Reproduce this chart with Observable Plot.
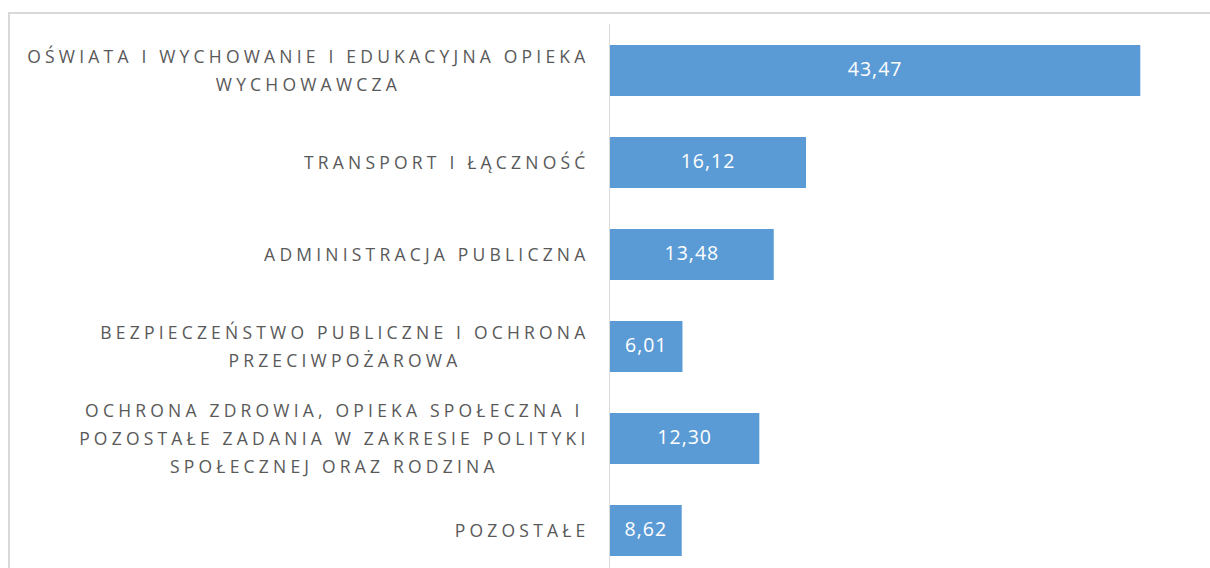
<!DOCTYPE html>
<html>
<head>
<meta charset="utf-8">
<script src="https://cdn.jsdelivr.net/npm/d3@7"></script>
<script src="https://cdn.jsdelivr.net/npm/@observablehq/plot@0.6"></script>
<style>
  html, body { margin: 0; padding: 0; background: #fff; overflow: hidden; }
  #frame { position: absolute; left: 8px; top: 12px; width: 1400px; height: 800px;
           border: 2px solid #d9d9d9; box-sizing: border-box; }
  #chart { position: absolute; left: 0; top: 0; }
</style>
</head>
<body>
<div id="frame"></div>
<div id="chart"></div>
<script>
const categories = [
  "OŚWIATA I WYCHOWANIE I EDUKACYJNA OPIEKA\nWYCHOWAWCZA",
  "TRANSPORT I ŁĄCZNOŚĆ",
  "ADMINISTRACJA PUBLICZNA",
  "BEZPIECZEŃSTWO PUBLICZNE I OCHRONA\nPRZECIWPOŻAROWA",
  "OCHRONA ZDROWIA, OPIEKA SPOŁECZNA I\nPOZOSTAŁE ZADANIA W ZAKRESIE POLITYKI\nSPOŁECZNEJ ORAZ RODZINA",
  "POZOSTAŁE"
];
// bar lengths as drawn in the picture
const values = [43.47, 16.12, 13.48, 6.01, 12.30, 5.95];
// data labels as printed in the picture
const valueLabels = ["43,47", "16,12", "13,48", "6,01", "12,30", "8,62"];

const data = categories.map((c, i) => ({category: c, value: values[i], label: valueLabels[i]}));

const plot = Plot.plot({
  width: 1210,
  height: 600,
  marginLeft: 609,
  marginRight: 51,
  marginTop: 24,
  marginBottom: 24,
  style: {background: "transparent", overflow: "visible"},
  x: {domain: [0, 45], axis: null},
  y: {domain: categories, axis: null, paddingInner: 0.446, paddingOuter: 0.223},
  marks: [
    Plot.barX(data, {y: "category", x: "value", fill: "#5b9bd5"}),
    Plot.ruleX([0], {stroke: "#d9d9d9", strokeWidth: 1}),
    Plot.text(data, {
      y: "category", x: d => d.value / 2, text: "label", dy: -1,
      fill: "white", fontSize: 19.5, fontFamily: "Open Sans", className: "vals"
    }),
    Plot.text(data, {
      y: "category", x: 0, text: "category", textAnchor: "end", lineAnchor: "middle",
      dx: -20, dy: -3, lineHeight: 1.6, fill: "#595959", fontSize: 17.5, fontFamily: "Open Sans",
      className: "cats"
    })
  ]
});
document.getElementById("chart").appendChild(plot);

plot.querySelectorAll(".vals text").forEach(t => t.setAttribute("letter-spacing", "1"));
// center multi-line labels relative to each other while the block stays right-aligned
plot.querySelectorAll(".cats text").forEach(t => {
  t.setAttribute("letter-spacing", "4.2");
  const spans = t.querySelectorAll("tspan");
  if (spans.length < 2) return;
  const widths = Array.from(spans, s => s.getComputedTextLength());
  const maxW = Math.max(...widths);
  t.setAttribute("text-anchor", "middle");
  spans.forEach(s => s.setAttribute("x", -maxW / 2));
});
</script>
</body>
</html>
